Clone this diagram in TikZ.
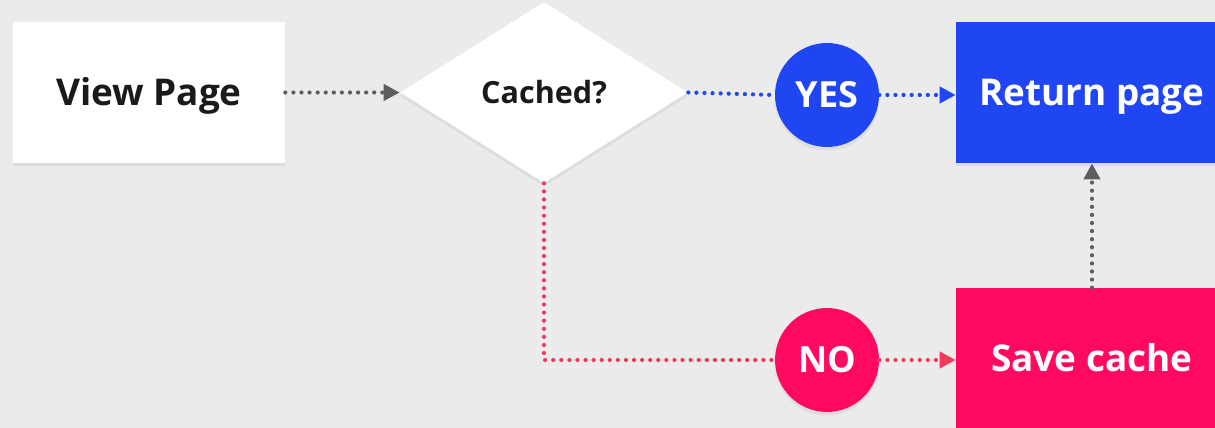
\documentclass[tikz,border=0pt]{standalone}
\usepackage{fontspec}
\setmainfont{Open Sans}[BoldFont={* Bold}]
\usetikzlibrary{shapes.geometric,arrows.meta,shadows}
\definecolor{bgc}{HTML}{EBEBEB}
\definecolor{inkc}{HTML}{1A1A1A}
\definecolor{bluec}{HTML}{1F46F2}
\definecolor{pinkc}{HTML}{FF0A60}
\definecolor{redline}{HTML}{F23A5E}
\definecolor{grayline}{HTML}{5E5E5E}
\tikzset{
  px/.style={x=0.02cm,y=-0.02cm},
  softshadow/.style={drop shadow={opacity=0.12,shadow xshift=0pt,shadow yshift=-2pt}},
  card/.style={rectangle,minimum width=5.44cm,minimum height=2.82cm,inner sep=0pt,
    font=\bfseries\fontsize{21}{24}\selectfont,text height=15pt,text depth=0pt,softshadow},
  decision/.style={diamond,fill=white,minimum width=5.76cm,minimum height=3.62cm,
    inner sep=0pt,text=inkc,font=\bfseries\fontsize{17.4}{20}\selectfont,
    text height=12.4pt,text depth=0pt,softshadow},
  badge/.style={circle,minimum size=2.08cm,inner sep=0pt,text=white,
    font=\bfseries\fontsize{20.5}{24}\selectfont,text height=14.6pt,text depth=0pt,softshadow},
  dots/.style={line width=2.4pt,line cap=round,dash pattern=on 0pt off 4.6pt},
  tip/.style={-{Triangle[length=0.32cm,width=0.32cm]}},
}
\begin{document}
\begin{tikzpicture}[px]
  \fill[bgc] (0,0) rectangle (1215,428);
  \useasboundingbox (0,0) rectangle (1215,428);

  \node[card,fill=white,text=inkc] (view) at (149,92.5) {View Page};
  \node[decision] (cached) at (544,92.5) {Cached?};
  \node[badge,fill=bluec] (yes) at (827,95) {YES};
  \node[badge,fill=pinkc] (no) at (827,360) {NO};
  \node[card,fill=bluec,text=white] (ret) at (1092,92.5) {Return page};
  \node[card,fill=pinkc,text=white] (save) at (1092,358.5) {Save cache};

  \draw[dots,tip,grayline] (view.east) -- (cached.west);
  \draw[dots,bluec] (cached.east) -- (yes.west);
  \draw[dots,tip,bluec] (yes.east) -- (ret.west |- yes.east);
  \draw[dots,redline] (cached.south) |- (no.west);
  \draw[dots,tip,redline] (no.east) -- (save.west |- no.east);
  \draw[dots,tip,grayline] (save.north) -- (ret.south);
\end{tikzpicture}
\end{document}
